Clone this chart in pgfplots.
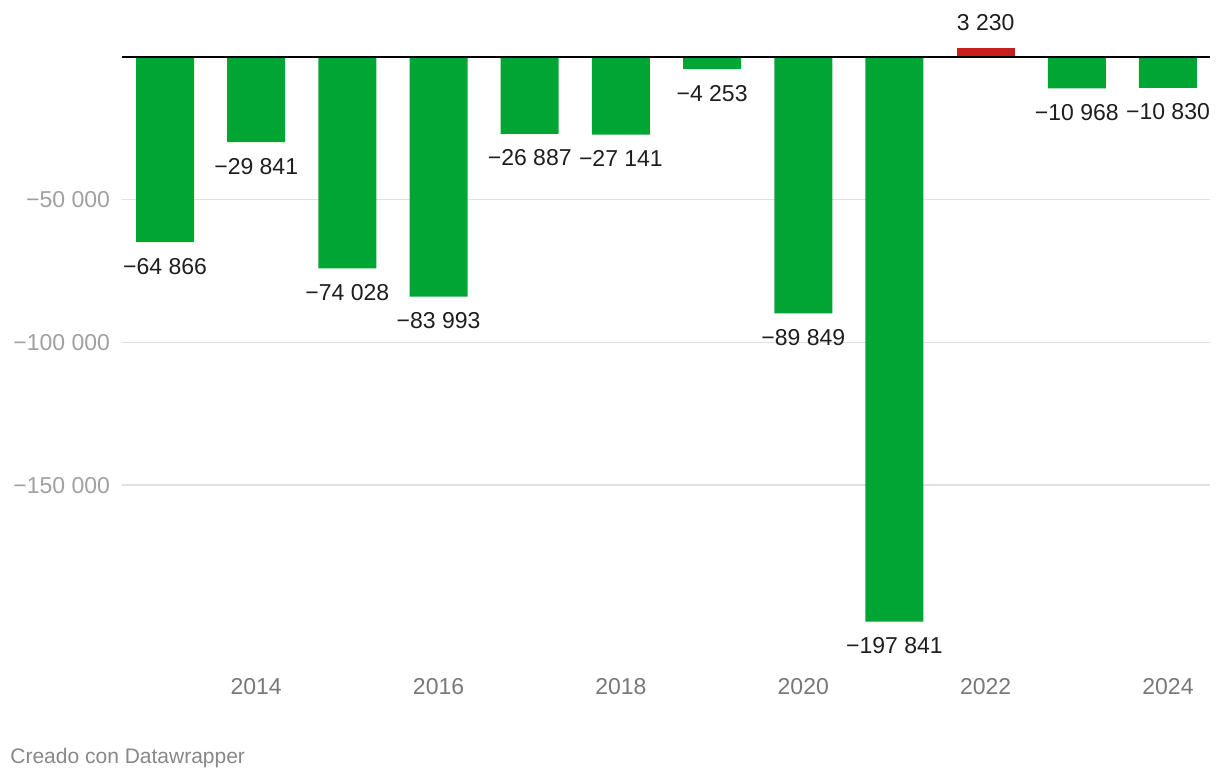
\documentclass[border=0pt]{standalone}
\usepackage{fontspec}
\setmainfont{Liberation Sans}
\usepackage{pgfplots}
\usepackage{pgfplotstable}
\pgfplotsset{compat=1.18}

\definecolor{barGreen}{RGB}{0,165,51}
\definecolor{barRed}{RGB}{200,30,30}
\definecolor{gridGray}{RGB}{224,224,224}
\definecolor{yTickGray}{RGB}{160,160,160}
\definecolor{xTickGray}{RGB}{120,120,120}
\definecolor{footGray}{RGB}{136,136,136}
\definecolor{labelBlack}{RGB}{30,30,30}

% balance per year (negative years)
\pgfplotstableread{
year value label
2013 -64866 {−64 866}
2014 -29841 {−29 841}
2015 -74028 {−74 028}
2016 -83993 {−83 993}
2017 -26887 {−26 887}
2018 -27141 {−27 141}
2019 -4253 {−4 253}
2020 -89849 {−89 849}
2021 -197841 {−197 841}
2023 -10968 {−10 968}
2024 -10830 {−10 830}
}\deficit

% the one positive year
\pgfplotstableread{
year value label
2022 3230 {3 230}
}\surplus

\begin{document}
\begin{tikzpicture}
\path (0pt,0pt) rectangle (610pt,-391pt);
\begin{axis}[
  at={(61pt,0pt)}, anchor=north west,
  scale only axis, width=544pt, height=328.15pt,
  xmin=2012.528, xmax=2024.461,
  ymin=-210000, ymax=20000,
  axis lines*=left, axis line style={draw=none},
  major tick length=0pt,
  scaled y ticks=false, scaled x ticks=false,
  xtick={2014,2016,2018,2020,2022,2024},
  xticklabels={2014,2016,2018,2020,2022,2024},
  ytick={-150000,-100000,-50000},
  yticklabels={−150 000,−100 000,−50 000},
  ymajorgrids, grid style={gridGray, line width=0.6pt},
  xticklabel style={anchor=center, yshift=-15pt, font=\fontsize{11.5}{13}\selectfont, text=xTickGray},
  yticklabel style={anchor=east, xshift=-2.5pt, font=\fontsize{11.5}{13}\selectfont, text=yTickGray},
  clip=false,
  ybar, bar width=0.636, /pgf/bar shift=0pt,
  nodes near coords, point meta=explicit symbolic,
  every node near coord/.append style={font=\fontsize{11.5}{13}\selectfont, text=labelBlack},
]
\addplot[fill=barGreen, draw=none,
  every node near coord/.append style={anchor=center, yshift=-12pt}]
  table[x=year, y=value, meta=label] {\deficit};
\addplot[fill=barRed, draw=none,
  every node near coord/.append style={anchor=center, yshift=12.5pt}]
  table[x=year, y=value, meta=label] {\surplus};
\draw[black, line width=1pt] (axis cs:2012.528,0) -- (axis cs:2024.461,0);
\end{axis}
\node[anchor=west, inner sep=0pt, text=footGray, font=\fontsize{10.5}{12}\selectfont] at (5pt,-379pt) {Creado con Datawrapper};
\end{tikzpicture}
\end{document}
